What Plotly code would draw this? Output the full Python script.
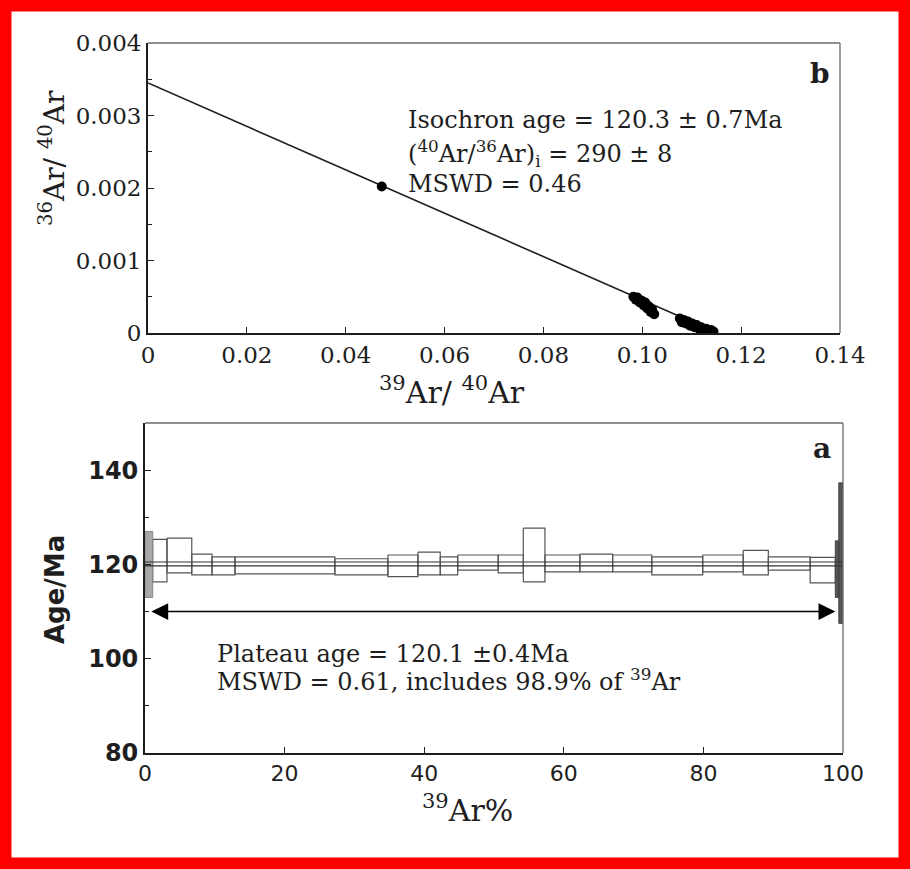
import plotly.graph_objects as go

W, H = 910, 869

# ---- inverse isochron: 39Ar/40Ar vs 36Ar/40Ar ----
iso_x = [0.0473,
         0.0982, 0.0987, 0.0990, 0.0995, 0.0998, 0.1003, 0.1006, 0.1010,
         0.1013, 0.1017, 0.1020, 0.1024,
         0.1076, 0.1080, 0.1084, 0.1088, 0.1092, 0.1097, 0.1101, 0.1106,
         0.1110, 0.1115, 0.1119, 0.1124, 0.1129, 0.1134, 0.1139, 0.1144]
iso_y = [0.00202,
         0.00050, 0.00046, 0.00049, 0.00042, 0.00045, 0.00038, 0.00042, 0.00034,
         0.00037, 0.00029, 0.00032, 0.00026,
         0.00020, 0.00015, 0.00018, 0.00013, 0.00016, 0.00010, 0.00013, 0.00008,
         0.00011, 0.00006, 0.00008, 0.00004, 0.00006, 0.00003, 0.00004, 0.00002]
iso_y_intercept = 1 / 290.0      # (40Ar/36Ar)i = 290
iso_x_intercept = 0.1152

iso_xticks = [0, 0.02, 0.04, 0.06, 0.08, 0.10, 0.12, 0.14]
iso_xtext = ["0", "0.02", "0.04", "0.06", "0.08", "0.10", "0.12", "0.14"]
iso_yticks = [0, 0.001, 0.002, 0.003, 0.004]
iso_ytext = ["0", "0.001", "0.002", "0.003", "0.004"]

# ---- step heating age spectrum ----
cum39 = [0, 1.1, 3.15, 6.7, 9.6, 12.9, 27.2, 34.8, 39.1, 42.3, 44.8, 50.6,
         54.2, 57.3, 62.3, 67.0, 72.6, 79.9, 85.7, 89.3, 95.3, 98.9, 99.4, 100]
step_age = [120.0, 120.8, 121.9, 120.0, 119.7, 119.8, 119.5, 119.7, 120.2,
            119.7, 120.4, 120.1, 122.0, 120.2, 120.3, 120.2, 119.7, 120.2,
            120.4, 120.2, 118.8, 119.0, 122.4]
step_err = [7.0, 4.5, 3.7, 2.2, 1.9, 1.8, 1.7, 2.3, 2.4, 1.9, 1.6, 1.9, 5.7,
            1.8, 1.9, 1.8, 1.9, 1.8, 2.6, 1.4, 2.7, 6.0, 14.9]
plateau_age = 120.1
plateau_err = 0.4
plateau_from, plateau_to = 0.7, 98.9
arrow_level = 110

age_xticks = [0, 20, 40, 60, 80, 100]
age_yticks = [80, 100, 120, 140]

SERIF = "DejaVu Serif"
SANS = "DejaVu Sans"
INK = "#1e1e1e"
FRAME = "#6a6a6a"


def box_path(indices):
    xs, ys = [], []
    for i in indices:
        lo, hi = cum39[i], cum39[i + 1]
        top, bot = step_age[i] + step_err[i], step_age[i] - step_err[i]
        xs += [lo, hi, hi, lo, lo, None]
        ys += [top, top, bot, bot, top, None]
    return xs, ys


fig = go.Figure()

# isochron line and points
fig.add_trace(go.Scatter(x=[0, iso_x_intercept], y=[iso_y_intercept, 0],
                         mode="lines", line=dict(color=INK, width=1.6),
                         xaxis="x", yaxis="y", hoverinfo="skip"))
fig.add_trace(go.Scatter(x=iso_x, y=iso_y, mode="markers",
                         marker=dict(color="black", size=10),
                         xaxis="x", yaxis="y"))

# age spectrum steps
n = len(step_age)
mid = list(range(1, n - 2))
bx, by = box_path(mid)
fig.add_trace(go.Scatter(x=bx, y=by, mode="lines",
                         line=dict(color="#555", width=1.2),
                         xaxis="x2", yaxis="y2", hoverinfo="skip"))
fx, fy = box_path([0])
fig.add_trace(go.Scatter(x=fx, y=fy, mode="lines", fill="toself",
                         fillcolor="#a8a8a8", line=dict(color="#888", width=1),
                         xaxis="x2", yaxis="y2", hoverinfo="skip"))
lx, ly = box_path([n - 2, n - 1])
fig.add_trace(go.Scatter(x=lx, y=ly, mode="lines", fill="toself",
                         fillcolor="#555", line=dict(color="#444", width=1),
                         xaxis="x2", yaxis="y2", hoverinfo="skip"))
# plateau band (age +/- error)
for lvl in (plateau_age + plateau_err, plateau_age - plateau_err):
    fig.add_trace(go.Scatter(x=[0, 100], y=[lvl, lvl], mode="lines",
                             line=dict(color="#333", width=1.1),
                             xaxis="x2", yaxis="y2", hoverinfo="skip"))


def px_x(p):
    return p / W


def px_y(p):
    return 1 - p / H


axis_common = dict(showgrid=False, zeroline=False, showline=True, mirror=False,
                   linecolor=INK, linewidth=1.8, ticks="inside", ticklen=6,
                   tickcolor=INK, automargin=False)

fig.update_layout(
    width=W, height=H, margin=dict(l=0, r=0, t=0, b=0),
    paper_bgcolor="white", plot_bgcolor="white", showlegend=False,
    xaxis=dict(axis_common, domain=[px_x(148), px_x(840)], range=[0, 0.14],
               tickvals=iso_xticks, ticktext=iso_xtext, anchor="y",
               tickfont=dict(family=SERIF, size=23, color=INK)),
    yaxis=dict(axis_common, domain=[px_y(333), px_y(43)], range=[0, 0.004],
               tickvals=iso_yticks, ticktext=iso_ytext, anchor="x",
               tickfont=dict(family=SERIF, size=23, color=INK),
               minor=dict(ticks="inside", ticklen=4, tick0=0, dtick=0.0005,
                          tickcolor=INK)),
    xaxis2=dict(axis_common, domain=[px_x(145), px_x(843)], range=[0, 100],
                tickvals=age_xticks, anchor="y2",
                tickfont=dict(family=SANS, size=22, color=INK)),
    yaxis2=dict(axis_common, domain=[px_y(753), px_y(423)], range=[80, 150],
                tickvals=age_yticks, anchor="x2",
                tickfont=dict(family=SANS, size=24, color=INK, weight="bold"),
                minor=dict(ticks="inside", ticklen=4, tick0=80, dtick=10,
                           tickcolor=INK)),
)

# lighter top and right frame edges of both panels
for xa, ya in (("x", "y"), ("x2", "y2")):
    fig.add_shape(type="line", xref=f"{xa} domain", yref=f"{ya} domain",
                  x0=0, x1=1, y0=1, y1=1, line=dict(color=FRAME, width=1.3))
    fig.add_shape(type="line", xref=f"{xa} domain", yref=f"{ya} domain",
                  x0=1, x1=1, y0=0, y1=1, line=dict(color=FRAME, width=1.3))

# double-headed plateau arrow
fig.add_annotation(x=plateau_to, y=arrow_level, ax=plateau_from, ay=arrow_level,
                   xref="x2", yref="y2", axref="x2", ayref="y2", text="",
                   showarrow=True, arrowside="end+start", arrowhead=2,
                   arrowsize=2.1, arrowwidth=1.6, arrowcolor="black",
                   standoff=0, startstandoff=0)


def label(text, x, y, size, family=SERIF, angle=0, xanchor="left", weight="normal"):
    fig.add_annotation(text=text, x=px_x(x), y=px_y(y), xref="paper", yref="paper",
                       showarrow=False, xanchor=xanchor, yanchor="middle",
                       textangle=angle,
                       font=dict(family=family, size=size, color=INK, weight=weight))


label("Isochron age = 120.3 ± 0.7Ma", 406, 120, 24)
label("(<sup>40</sup>Ar/<sup>36</sup>Ar)<sub>i</sub> = 290 ± 8", 406, 153, 24)
label("MSWD = 0.46", 406, 184, 24)
label("b", 820, 74, 28, xanchor="center", weight="bold")

label("Plateau age = 120.1 ±0.4Ma", 215, 654, 24)
label("MSWD = 0.61, includes 98.9% of <sup>39</sup>Ar", 215, 680, 24)
label("a", 822, 448, 28, xanchor="center", weight="bold")

label("<sup>36</sup>Ar/ <sup>40</sup>Ar", 52, 158, 28, angle=-90, xanchor="center")
label("<sup>39</sup>Ar/ <sup>40</sup>Ar", 452, 390, 30, xanchor="center")
label("Age/Ma", 55, 590, 26, family=SANS, angle=-90, xanchor="center", weight="bold")
label("<sup>39</sup>Ar%", 468, 808, 30, xanchor="center")

# red frame around the whole figure
fig.add_shape(type="rect", xref="paper", yref="paper", x0=0, x1=1, y0=0, y1=1,
              line=dict(color="#ff0000", width=23), fillcolor="rgba(0,0,0,0)")

fig.write_html("out.html")
